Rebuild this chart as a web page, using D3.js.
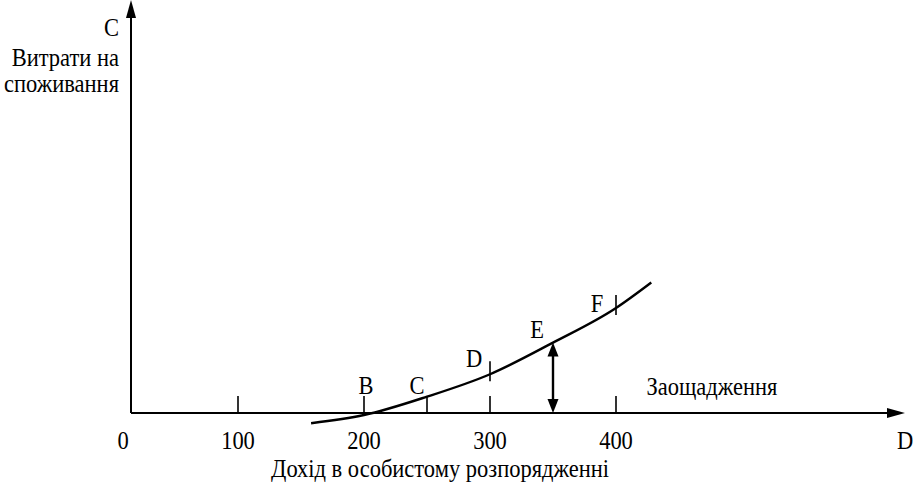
<!DOCTYPE html>
<html lang="uk">
<head>
  <meta charset="UTF-8" />
  <title>Витрати на споживання</title>
  <style>
    body {
      margin: 0;
      background-color: #fff;
    }

    svg text {
      font-family: "Liberation Serif", "Times New Roman", "DejaVu Serif", serif;
      fill: #000;
    }
  </style>
</head>
<body>
  <svg width="913" height="483"></svg>

  <script src="https://d3js.org/d3.v7.min.js"></script>
  <script>
    // income axis ticks
    const tickValues = [100, 200, 300, 400];
    const tickLabels = ["100", "200", "300", "400"];

    // consumption curve (income -> consumption)
    const curveIncome = [158, 200, 250, 300, 350, 400, 428];
    const curveConsumption = [-10, -2, 16, 38, 69, 103, 128];

    // lettered points on the curve
    const pointLetters = ["B", "C", "D", "E", "F"];
    const pointIncome = [200, 250, 300, 350, 400];

    const svg = d3.select("svg");

    const originX = 131;
    const axisY = 413;

    const x = d3.scaleLinear().domain([0, 400]).range([112, 616]);
    const y = d3.scaleLinear().domain([0, 400]).range([axisY, 5]);

    const curveData = curveIncome.map((d, i) => [d, curveConsumption[i]]);
    const line = d3.line()
      .x(d => x(d[0]))
      .y(d => y(d[1]))
      .curve(d3.curveMonotoneX);

    const path = svg.append("path")
      .attr("d", line(curveData))
      .attr("fill", "none")
      .attr("stroke", "#000")
      .attr("stroke-width", 2.4);

    // y of the drawn curve at a pixel x
    const pathNode = path.node();
    const total = pathNode.getTotalLength();
    function curveYAt(px) {
      let lo = 0, hi = total;
      for (let i = 0; i < 40; i++) {
        const mid = (lo + hi) / 2;
        if (pathNode.getPointAtLength(mid).x < px) lo = mid; else hi = mid;
      }
      return pathNode.getPointAtLength(lo).y;
    }

    function arrowHead(tx, ty, dir, len, half) {
      let pts;
      if (dir === "up") pts = [[tx, ty], [tx - half, ty + len], [tx + half, ty + len]];
      else if (dir === "down") pts = [[tx, ty], [tx - half, ty - len], [tx + half, ty - len]];
      else pts = [[tx, ty], [tx - len, ty - half], [tx - len, ty + half]];
      svg.append("path")
        .attr("d", d3.line()(pts) + "Z")
        .attr("fill", "#000");
    }

    // axes
    svg.append("line")
      .attr("x1", originX).attr("x2", 890)
      .attr("y1", axisY).attr("y2", axisY)
      .attr("stroke", "#000").attr("stroke-width", 2);
    arrowHead(905, axisY, "right", 18, 5);

    svg.append("line")
      .attr("x1", originX).attr("x2", originX)
      .attr("y1", axisY).attr("y2", 14)
      .attr("stroke", "#000").attr("stroke-width", 2);
    arrowHead(originX, 0, "up", 18, 5);

    // ticks on income axis
    svg.selectAll(".tick")
      .data(tickValues)
      .join("line")
      .attr("class", "tick")
      .attr("x1", d => x(d)).attr("x2", d => x(d))
      .attr("y1", axisY).attr("y2", axisY - 17)
      .attr("stroke", "#000").attr("stroke-width", 1.6);

    function label(txt, px, py, anchor) {
      svg.append("text")
        .attr("transform", `translate(${px},${py}) scale(0.9,1)`)
        .attr("text-anchor", anchor || "middle")
        .attr("font-size", 25)
        .text(txt);
    }

    tickLabels.forEach((t, i) => label(t, x(tickValues[i]), 449));
    label("0", originX - 8, 449);
    label("D", 905, 449);
    label("Дохід в особистому розпорядженні", 440, 477);

    label("C", 119, 36, "end");
    label("Витрати на", 119, 66, "end");
    label("споживання", 119, 92, "end");
    label("Заощадження", 712, 395);

    // marks at lettered points
    const offsets = {
      B: { tick: null, lx: 2, ly: -19 },
      C: { tick: "down", lx: -10, ly: -3 },
      D: { tick: "cross", lx: -16, ly: -7 },
      E: { tick: null, lx: -16, ly: -5 },
      F: { tick: "cross", lx: -19, ly: 4 }
    };

    pointLetters.forEach((letter, i) => {
      const px = x(pointIncome[i]);
      const cy = curveYAt(px);
      const o = offsets[letter];
      if (o.tick === "down") {
        svg.append("line")
          .attr("x1", px).attr("x2", px)
          .attr("y1", cy).attr("y2", axisY)
          .attr("stroke", "#000").attr("stroke-width", 1.6);
      } else if (o.tick === "cross") {
        svg.append("line")
          .attr("x1", px).attr("x2", px)
          .attr("y1", cy - 13).attr("y2", cy + 7)
          .attr("stroke", "#000").attr("stroke-width", 1.6);
      }
      const baseY = letter === "B" ? axisY : cy;
      label(letter, px + o.lx, baseY + o.ly);
    });

    // saving arrow at E
    const ex = x(350);
    const ey = curveYAt(ex);
    svg.append("line")
      .attr("x1", ex).attr("x2", ex)
      .attr("y1", ey + 12).attr("y2", axisY - 12)
      .attr("stroke", "#000").attr("stroke-width", 2.4);
    arrowHead(ex, ey, "up", 14, 5.5);
    arrowHead(ex, axisY, "down", 14, 5.5);
  </script>
</body>
</html>
